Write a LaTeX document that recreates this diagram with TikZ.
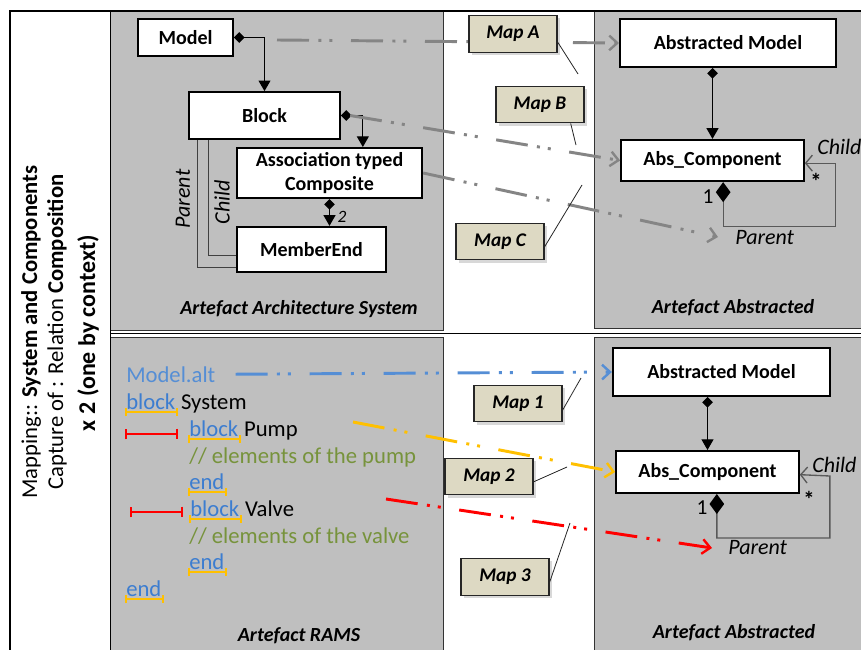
\documentclass[tikz,border=0pt]{standalone}
\usepackage{fontspec}
\setmainfont{Carlito}
\usetikzlibrary{arrows.meta,positioning,shadows}
\definecolor{panelgray}{HTML}{BFBFBF}
\definecolor{mapfill}{HTML}{DDD9C3}
\definecolor{linkgray}{HTML}{858585}
\definecolor{altblue}{HTML}{558ED5}
\definecolor{kwblue}{HTML}{3C7DD0}
\definecolor{markorange}{HTML}{FFC000}
\definecolor{cmtgreen}{HTML}{77933C}
\tikzset{
  panel/.style={fill=panelgray,draw=black!80,line width=0.6pt},
  cls/.style={draw,fill=white,line width=1.5pt,inner sep=0pt,font=\bfseries\fontsize{15}{18.5}\selectfont},
  mapbox/.style={draw=black!85,fill=mapfill,line width=0.9pt,minimum width=66pt,minimum height=27.5pt,
    font=\bfseries\itshape\fontsize{14.5}{17}\selectfont,drop shadow={opacity=0.3,shadow xshift=2pt,shadow yshift=-2pt}},
  maplink/.style={draw=#1,line width=2.2pt,dash pattern=on 24pt off 7pt on 2.25pt off 6pt on 2.25pt off 14pt,
    -{Straight Barb[length=6pt,width=11pt,line width=1.8pt]}},
  compose/.style={line width=0.8pt,{Diamond[length=8pt,width=8pt]}-{Triangle[length=8pt,width=9pt]}},
  selfcomp/.style={draw=black!65,line width=1pt,{Diamond[length=15pt,width=11pt,color=black]}-{Straight Barb[length=5pt,width=12pt]}},
  nest/.style={draw=black!75,line width=0.8pt},
  callout/.style={draw=black!85,line width=0.6pt},
  role/.style={font=\itshape\fontsize{16.5}{18}\selectfont,inner sep=0pt},
  caption/.style={font=\bfseries\itshape\fontsize{15}{17}\selectfont},
  code/.style={font=\fontsize{17}{20}\selectfont,inner sep=0pt,anchor=base west},
  uline/.style={draw=markorange,line width=1.5pt,{Bar[width=6pt]}-{Bar[width=6pt]}},
  rmark/.style={draw=red,line width=1.5pt,{Bar[width=8pt]}-{Bar[width=8pt]}}
}
\begin{document}
\begin{tikzpicture}[x=0.75pt,y=-0.75pt]
\useasboundingbox (0,0) rectangle (861,650);
\fill[white] (0,0) rectangle (861,650);
% panels and frame
\draw[panel] (110,11) rectangle (443,330);
\draw[panel] (594,11) rectangle (861,328);
\draw[panel] (110,337) rectangle (443,650);
\draw[panel] (594,337) rectangle (861,650);
\draw[line width=0.6pt] (110,333) -- (861,333);
\draw[line width=0.6pt] (110,11) -- (110,650);
\draw[line width=2pt] (10,650) -- (10,11) -- (861,11);
% left column
\node[rotate=90,font=\fontsize{17}{19}\selectfont] (lineone) at (31,332) {Mapping:: \textbf{System and Components}};
\node[rotate=90,font=\fontsize{17}{19}\selectfont] (linetwo) at (57,332) {Capture of : Relation \textbf{Composition}};
\node[rotate=90,font=\bfseries\fontsize{18}{20}\selectfont] (linethree) at (88,333) {x 2 (one by context)};
% architecture system
\node[cls,minimum width=71pt,minimum height=28pt] (model) at (185.5,37.5) {Model};
\node[cls,minimum width=113pt,minimum height=35pt] (block) at (264.5,115.5) {Block};
\node[cls,minimum width=139pt,minimum height=37.5pt,align=center] (assoc) at (329.5,173) {Association typed\\Composite};
\node[cls,minimum width=112pt,minimum height=34pt] (member) at (311.5,249.5) {MemberEnd};
\draw[compose] (model.east) -| (block.north);
\draw[compose] (block.east) -| ([xshift=25pt]assoc.north);
\draw[compose] (assoc.south) -- (assoc.south |- member.north);
\node[font=\itshape\fontsize{13}{15}\selectfont] (mult) at (342,217) {2};
\draw[nest] ([xshift=6.75pt]block.south west) |- ([yshift=4.5pt]member.south west);
\draw[nest] ([xshift=15pt]block.south west) |- ([yshift=13.5pt]member.south west);
\node[role,rotate=90] (parentlbl) at (183,199) {Parent};
\node[role,rotate=90] (childlbl) at (222,202) {Child};
\node[caption] (capsys) at (299,309) {Artefact Architecture System};
% abstracted, top
\node[cls,minimum width=162pt,minimum height=36pt] (absmodelA) at (728,43) {Abstracted Model};
\node[cls,minimum width=137pt,minimum height=31pt] (abscompA) at (712.5,160.5) {Abs\_Component};
\draw[compose] (abscompA.north |- absmodelA.south) -- (abscompA.north);
\draw[selfcomp] ([xshift=8pt]abscompA.south) -- ++(0,44) -| ++(112,-63) -- ([yshift=-2pt]abscompA.east);
\node[role,anchor=west] (childA) at (817,147) {Child};
\node[font=\bfseries\fontsize{17}{18}\selectfont] (starA) at (816,181) {*};
\node[font=\fontsize{16}{18}\selectfont] (oneA) at (708,197) {1};
\node[role,anchor=west] (parentA) at (735,238) {Parent};
\node[caption] (capabsA) at (733,308) {Artefact Abstracted};
% gray links
\coordinate (modelfrom) at (277,40);
\coordinate (toparentA) at (718,237);
\draw[maplink=linkgray] (modelfrom) -- (absmodelA.west);
\draw[maplink=linkgray] ([xshift=7pt]block.east) -- (abscompA.west);
\draw[maplink=linkgray] (assoc.east) -- (toparentA);
\coordinate (tapA) at (578,74);
\coordinate (tapB) at (576,145);
\coordinate (tapC) at (582,185);
\node[mapbox] (mapA) at (513,34) {Map A};
\node[mapbox] (mapB) at (540,104.5) {Map B};
\node[mapbox] (mapC) at (500,241.5) {Map C};
\draw[callout] ([yshift=-6pt]mapA.east) -- (tapA);
\draw[callout] ([xshift=23pt]mapB.south) -- (tapB);
\draw[callout] ([yshift=-4pt]mapC.east) -- (tapC);
% RAMS code
\node[code,text=altblue] (alt) at (126,382) {Model.alt};
\node[code,text=kwblue] (kwsys) at (126,409) {block};
\node[code,xshift=4pt] (sys) at (kwsys.base east) {System};
\node[code,text=kwblue] (kwpump) at (189,436) {block};
\node[code,xshift=4pt] (pump) at (kwpump.base east) {Pump};
\node[code,text=cmtgreen] (cmtpump) at (189,463) {// elements of the pump};
\node[code,text=kwblue] (endpump) at (189,489) {end};
\node[code,text=kwblue] (kwvalve) at (190,516) {block};
\node[code,xshift=4pt] (valve) at (kwvalve.base east) {Valve};
\node[code,text=cmtgreen] (cmtvalve) at (189,543) {// elements of the valve};
\node[code,text=kwblue] (endvalve) at (189,569) {end};
\node[code,text=kwblue] (endsys) at (126,596) {end};
\foreach \w in {kwsys,kwpump,endpump,kwvalve,endvalve,endsys}
  \draw[uline] ([shift={(-1pt,-2.5pt)}]\w.base west) -- ([shift={(2pt,-2.5pt)}]\w.base east);
\draw[rmark] (125,434) -- (178,434);
\draw[rmark] (130,512) -- (183,512);
\node[caption] (caprams) at (299,636) {Artefact RAMS};
% abstracted, bottom
\node[cls,minimum width=163pt,minimum height=36pt] (absmodelB) at (721.5,372) {Abstracted Model};
\node[cls,minimum width=137pt,minimum height=31.5pt] (abscompB) at (707.5,472) {Abs\_Component};
\draw[compose] (abscompB.north |- absmodelB.south) -- (abscompB.north);
\draw[selfcomp] ([xshift=7pt]abscompB.south) -- ++(0,44) -| ++(113,-62) -- ([yshift=-2pt]abscompB.east);
\node[role,anchor=west] (childB) at (812,465) {Child};
\node[font=\bfseries\fontsize{17}{18}\selectfont] (starB) at (809,499) {*};
\node[font=\fontsize{16}{18}\selectfont] (oneB) at (702,508) {1};
\node[role,anchor=west] (parentB) at (728,548) {Parent};
\node[caption] (capabsB) at (734,633) {Artefact Abstracted};
% coloured links
\coordinate (pumpfrom) at (353,422);
\coordinate (valvefrom) at (386,499);
\coordinate (toparentB) at (712,548);
\draw[maplink=altblue] ([xshift=15pt]alt.east) -- (absmodelB.west);
\draw[maplink=markorange] (pumpfrom) -- (abscompB.west);
\draw[maplink=red] (valvefrom) -- (toparentB);
\coordinate (tap1) at (581,378);
\coordinate (tap2) at (567,467);
\coordinate (tap3) at (570,523);
\node[mapbox] (map1) at (518,403.5) {Map 1};
\node[mapbox] (map2) at (489,476.5) {Map 2};
\node[mapbox] (map3) at (505,577) {Map 3};
\draw[callout] ([yshift=-5pt]map1.east) -- (tap1);
\draw[callout] ([yshift=-4pt]map2.east) -- (tap2);
\draw[callout] ([yshift=-4pt]map3.east) -- (tap3);
\end{tikzpicture}
\end{document}
